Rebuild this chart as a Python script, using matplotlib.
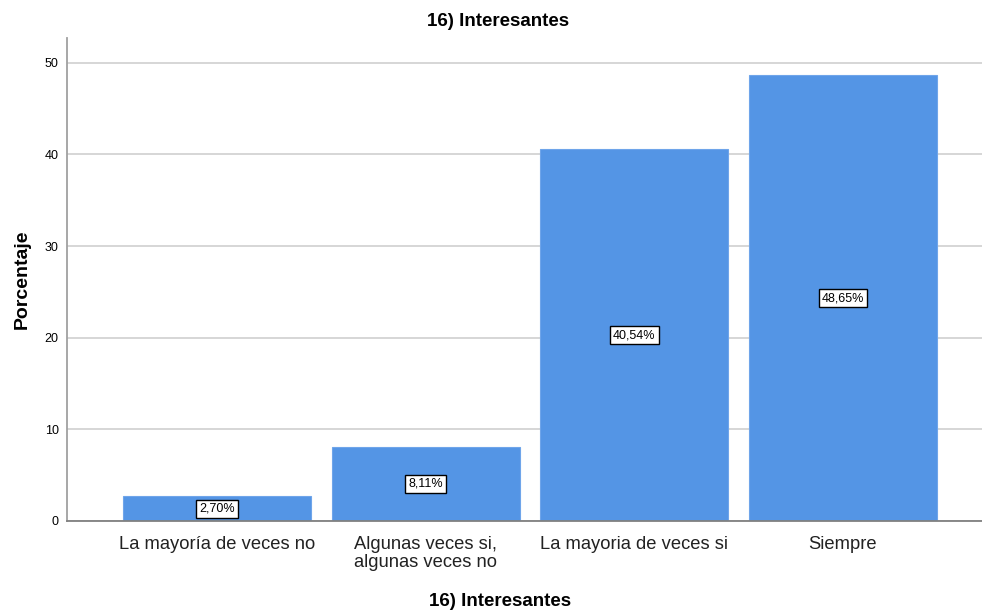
import matplotlib.pyplot as plt

# data
categories = ["La mayoría de veces no", "Algunas veces si,\nalgunas veces no",
              "La mayoria de veces si", "Siempre"]
percentages = [2.70, 8.11, 40.54, 48.65]
labels = ["2,70%", "8,11%", "40,54%", "48,65%"]
yticks = [0, 10, 20, 30, 40, 50]

plt.rcParams["font.family"] = ["Liberation Sans", "DejaVu Sans"]

fig = plt.figure(figsize=(9.82, 6.11), dpi=100)
ax = fig.add_axes([0.0682, 0.1473, 0.9318, 0.7905])

x = range(len(categories))
ax.bar(x, percentages, width=0.9, color="#5495E5", edgecolor="#6FA5EA",
       linewidth=0.8, zorder=2)

for i, (v, lab) in enumerate(zip(percentages, labels)):
    ax.text(i, v / 2, lab, ha="center", va="center", fontsize=9, zorder=3,
            bbox=dict(boxstyle="square,pad=0.25", facecolor="white",
                      edgecolor="black", linewidth=1))

ax.set_xlim(-0.719, 3.666)
ax.set_ylim(0, 52.7)
ax.set_yticks(yticks)
ax.set_xticks(list(x))
ax.set_xticklabels(categories, fontsize=13.2, linespacing=1.05)
ax.tick_params(axis="both", length=0)
ax.tick_params(axis="y", labelsize=9, pad=6)
ax.tick_params(axis="x", pad=11, colors="#222222")
ax.yaxis.grid(True, color="#CFCFCF", linewidth=1.2, zorder=0)
ax.set_axisbelow(True)

for side in ["top", "right"]:
    ax.spines[side].set_visible(False)
ax.spines["left"].set_color("#A0A0A0")
ax.spines["left"].set_linewidth(1.3)
ax.spines["bottom"].set_color("#808080")
ax.spines["bottom"].set_linewidth(1.3)

# title and x label are centred on the figure, not the axes
fig.text(498 / 982, 1 - 22 / 611, "16) Interesantes", fontsize=13.5,
         fontweight="bold", ha="center", va="center")
fig.text(500 / 982, 1 - 602 / 611, "16) Interesantes", fontsize=13.5,
         fontweight="bold", ha="center", va="center")
ax.set_ylabel("Porcentaje", fontsize=14, fontweight="bold", labelpad=10)

fig.savefig("out.png", dpi=100)
